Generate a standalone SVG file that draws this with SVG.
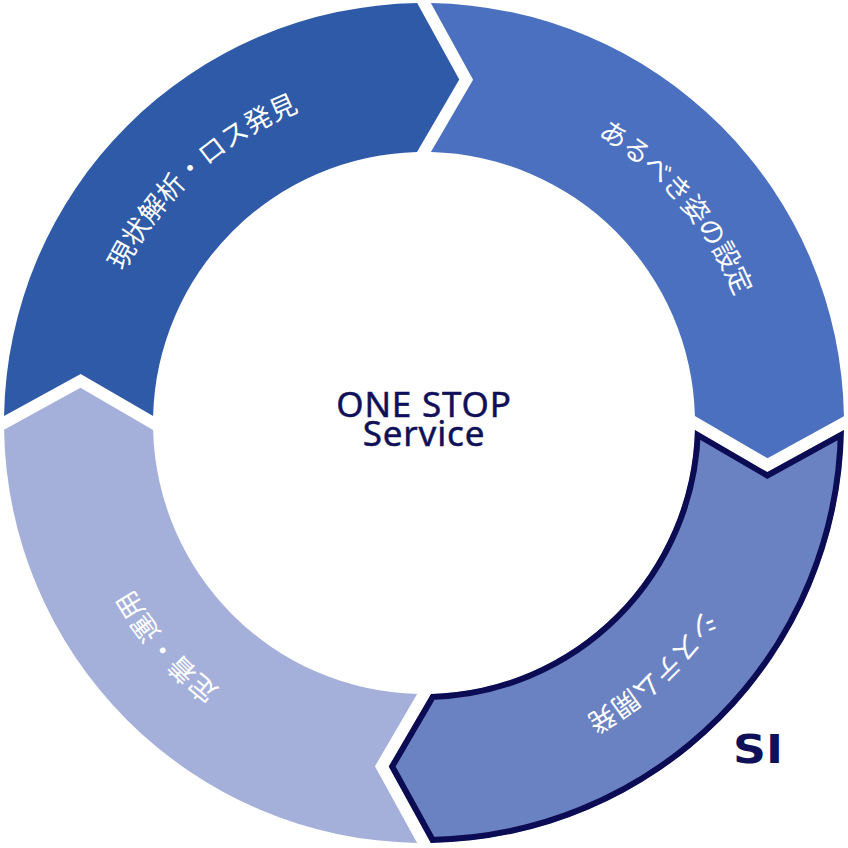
<svg xmlns="http://www.w3.org/2000/svg" width="848" height="848" viewBox="0 0 848 848">
<style>
.seg-label{font-family:"Noto Sans CJK JP","Noto Sans",sans-serif;font-size:27px;fill:#ffffff;text-anchor:middle}
.center{font-family:"Noto Sans","Open Sans",sans-serif;font-size:35px;letter-spacing:0.8px;fill:#101058;stroke:#101058;stroke-width:0.5px;text-anchor:middle}
</style>
<defs>
<path id="ring" d="M 760,423 A 336 336 0 1 1 88,423 A 336 336 0 1 1 760,423 Z"/>
<clipPath id="siClip"><path d="M 843.94,429.88 A 420 420 0 0 1 430.82,842.94 L 388.73,766.5 L 431,693.91 A 271 271 0 0 0 694.91,429.9 L 767.34,472.07 Z"/></clipPath>
</defs>
<rect width="848" height="848" fill="#ffffff"/>
<g id="seg-analysis">
<path d="M 4.06,416.12 A 420 420 0 0 1 417.18,3.06 L 459.27,79.5 L 417,152.09 A 271 271 0 0 0 153.09,416.1 L 80.66,373.93 Z" fill="#2E5AA7"/>
<text class="seg-label"><textPath href="#ring" startOffset="63.19%">現状解析・ロス発見</textPath></text>
</g>
<g id="seg-target">
<path d="M 430.88,3.06 A 420 420 0 0 1 843.94,416.18 L 767.5,458.27 L 694.91,416 A 271 271 0 0 0 430.9,152.09 L 473.07,79.66 Z" fill="#4B70BF"/>
<text class="seg-label"><textPath href="#ring" startOffset="88.75%">あるべき姿の設定</textPath></text>
</g>
<g id="seg-system">
<path d="M 843.94,429.88 A 420 420 0 0 1 430.82,842.94 L 388.73,766.5 L 431,693.91 A 271 271 0 0 0 694.91,429.9 L 767.34,472.07 Z" fill="#6B82C2" stroke="#0C0C55" stroke-width="12" stroke-linejoin="miter" clip-path="url(#siClip)"/>
<text class="seg-label"><textPath href="#ring" startOffset="13.19%">システム開発</textPath></text>
</g>
<g id="seg-operation">
<path d="M 417.12,842.94 A 420 420 0 0 1 4.06,429.82 L 80.5,387.73 L 153.09,430 A 271 271 0 0 0 417.1,693.91 L 374.93,766.34 Z" fill="#A4B0DA"/>
<text class="seg-label"><textPath href="#ring" startOffset="38.61%">定着・運用</textPath></text>
</g>
<g id="center">
<text class="center" x="424" y="417">ONE STOP</text>
<text class="center" x="424" y="446">Service</text>
</g>
<g id="si-label">
<text x="733" y="763" font-family="'DejaVu Sans',sans-serif" font-weight="bold" font-size="39" fill="#101058" textLength="50" lengthAdjust="spacingAndGlyphs">SI</text>
</g>
<g id="connectors"></g>
</svg>
